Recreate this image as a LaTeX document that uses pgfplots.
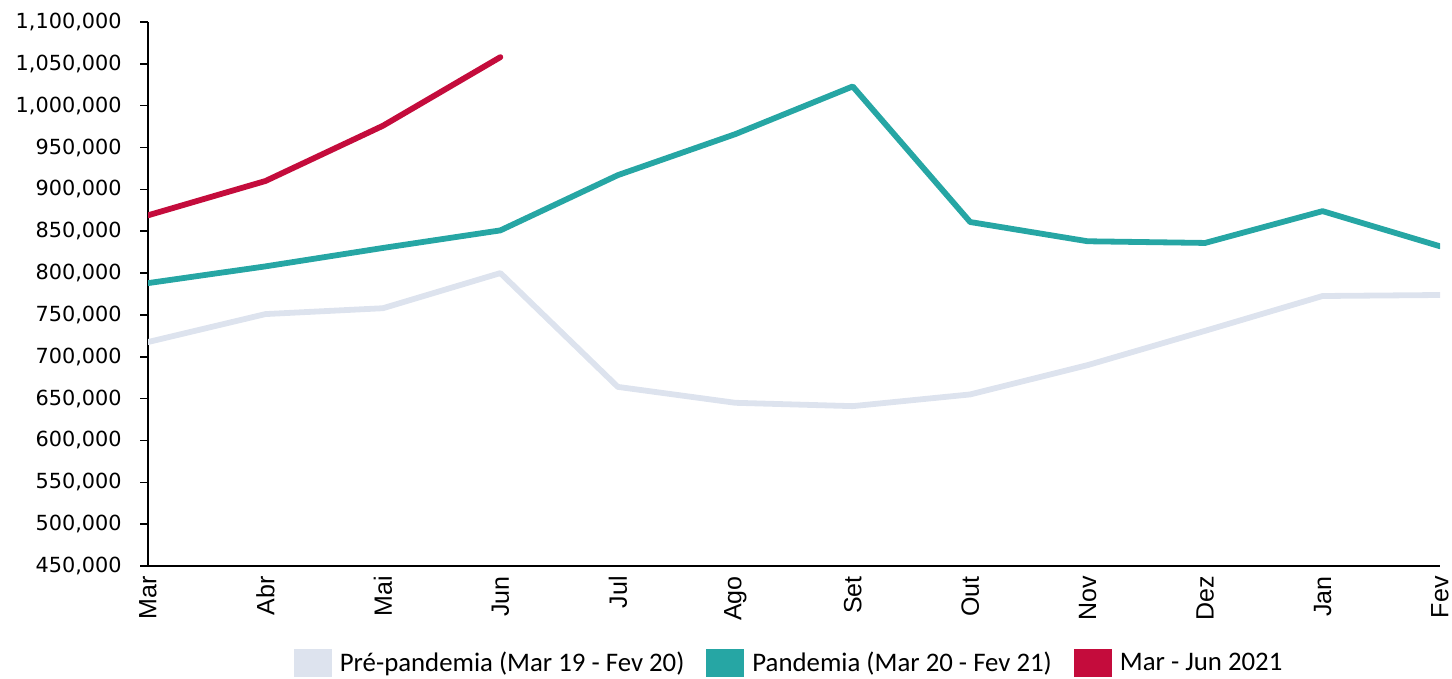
\documentclass[border=0pt]{standalone}
\usepackage{pgfplots}
\pgfplotsset{compat=1.18}
\usepackage{fontspec}
\setmainfont{Carlito}
\newfontfamily\yfont{DejaVu Sans}
\newfontfamily\xfont{Liberation Sans}
\definecolor{preC}{HTML}{DDE3EE}
\definecolor{panC}{HTML}{26A6A4}
\definecolor{redC}{HTML}{C40C3C}
\begin{document}
\begin{tikzpicture}
\useasboundingbox (0,0) rectangle (726pt,339.5pt);
\begin{axis}[
  at={(74pt,56.5pt)}, anchor=south west,
  scale only axis, width=646pt, height=272pt,
  xmin=0, xmax=11, ymin=450000, ymax=1100000,
  xtick={0,...,11},
  xticklabels={Mar,Abr,Mai,Jun,Jul,Ago,Set,Out,Nov,Dez,Jan,Fev},
  xticklabel style={rotate=90, anchor=east, font=\fontsize{12.5}{14}\xfont, inner sep=0pt, yshift=0pt, xshift=-1pt},
  x tick style={draw=none},
  ytick={450000,500000,...,1100000},
  scaled y ticks=false,
  yticklabel style={/pgf/number format/fixed, /pgf/number format/1000 sep={,}, /pgf/number format/assume math mode=true,
    font=\fontsize{10.4}{12}\yfont, inner sep=0pt, xshift=-9pt},
  axis x line*=bottom, axis y line*=left,
  axis line style={black, line width=0.8pt, -},
  y tick style={black, line width=0.8pt},
  tick align=outside, major tick length=4pt,
  legend style={at={(0.497,-0.178)}, anchor=center, draw=none, legend columns=3,
    font=\fontsize{13.4}{16}\selectfont, column sep=0pt,
    /tikz/every odd column/.append style={column sep=2pt},
    /tikz/every even column/.append style={column sep=9pt}},
  legend image code/.code={\fill[#1, draw=none] (0pt,-7pt) rectangle (19pt,7pt);},
  legend cell align=left,
  every axis plot/.append style={line width=2.9pt, line join=round, line cap=round},
]
\addplot[preC] coordinates {(0,717600)(1,751000)(2,758000)(3,800000)(4,664000)(5,645000)(6,641000)(7,655000)(8,690000)(9,731000)(10,772600)(11,773800)};
\addlegendentry{Pré-pandemia (Mar 19 - Fev 20)}
\addplot[panC] coordinates {(0,788000)(1,808000)(2,830000)(3,851000)(4,917000)(5,966000)(6,1023000)(7,861000)(8,838000)(9,836000)(10,874000)(11,832000)};
\addlegendentry{Pandemia (Mar 20 - Fev 21)}
\addplot[redC] coordinates {(0,869000)(1,910000)(2,976000)(3,1058000)};
\addlegendentry{Mar - Jun 2021}
\end{axis}
\end{tikzpicture}
\end{document}
